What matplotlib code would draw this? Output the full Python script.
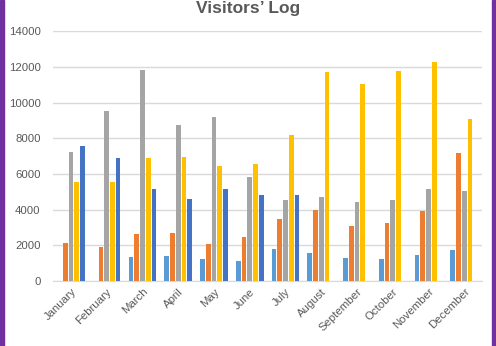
import numpy as np
import matplotlib
matplotlib.use("Agg")
import matplotlib.pyplot as plt
from matplotlib.patches import Rectangle

# monthly visitor counts, one list per series
months = ["January", "February", "March", "April", "May", "June",
          "July", "August", "September", "October", "November", "December"]
series_1 = [0, 0, 1350, 1400, 1250, 1100, 1780, 1550, 1300, 1230, 1440, 1760]
series_2 = [2130, 1890, 2640, 2680, 2090, 2450, 3450, 4000, 3070, 3270, 3930, 7160]
series_3 = [7240, 9540, 11830, 8740, 9180, 5830, 4560, 4720, 4410, 4520, 5150, 5060]
series_4 = [5530, 5570, 6910, 6950, 6470, 6560, 8180, 11730, 11040, 11790, 12250, 9080]
series_5 = [7560, 6910, 5180, 4580, 5140, 4840, 4820, 0, 0, 0, 0, 0]

all_series = [series_1, series_2, series_3, series_4, series_5]
colors = ["#5B9BD5", "#ED7D31", "#A5A5A5", "#FFC000", "#4472C4"]

txt = "#595959"
plt.rcParams["font.family"] = ["Liberation Sans", "DejaVu Sans"]

fig = plt.figure(figsize=(4.96, 3.46), dpi=100)
ax = fig.add_axes([0.107, 0.188, 0.865, 0.722])

x = np.arange(len(months))
step = 0.16
for i, (vals, c) in enumerate(zip(all_series, colors)):
    ax.bar(x + (i - 2) * step, vals, width=step * 0.82, color=c, zorder=3)

ax.set_xlim(-0.5, len(months) - 0.5)
ax.set_ylim(0, 14000)
ax.set_yticks(np.arange(0, 14001, 2000))
ax.yaxis.grid(True, color="#D9D9D9", linewidth=1, zorder=0)
ax.set_axisbelow(True)
for s in ["left", "right", "top"]:
    ax.spines[s].set_visible(False)
ax.spines["bottom"].set_color("#D9D9D9")

ax.set_xticks(x)
ax.set_xticklabels(months, rotation=45, ha="right", rotation_mode="anchor")
ax.tick_params(axis="both", length=0, labelsize=8.2, labelcolor=txt)
ax.tick_params(axis="y", pad=9)
ax.tick_params(axis="x", pad=4)

fig.text(0.5, 0.975, "Visitors\u2019 Log", ha="center", va="center",
         fontsize=12.5, fontweight="bold", color=txt)

# purple side strips
fig.patches.append(Rectangle((0, 0), 4 / 496, 1, transform=fig.transFigure,
                             color="#7030A0", zorder=10))
fig.patches.append(Rectangle((492 / 496, 0), 4 / 496, 1, transform=fig.transFigure,
                             color="#7030A0", zorder=10))

fig.savefig("out.png", dpi=100)
